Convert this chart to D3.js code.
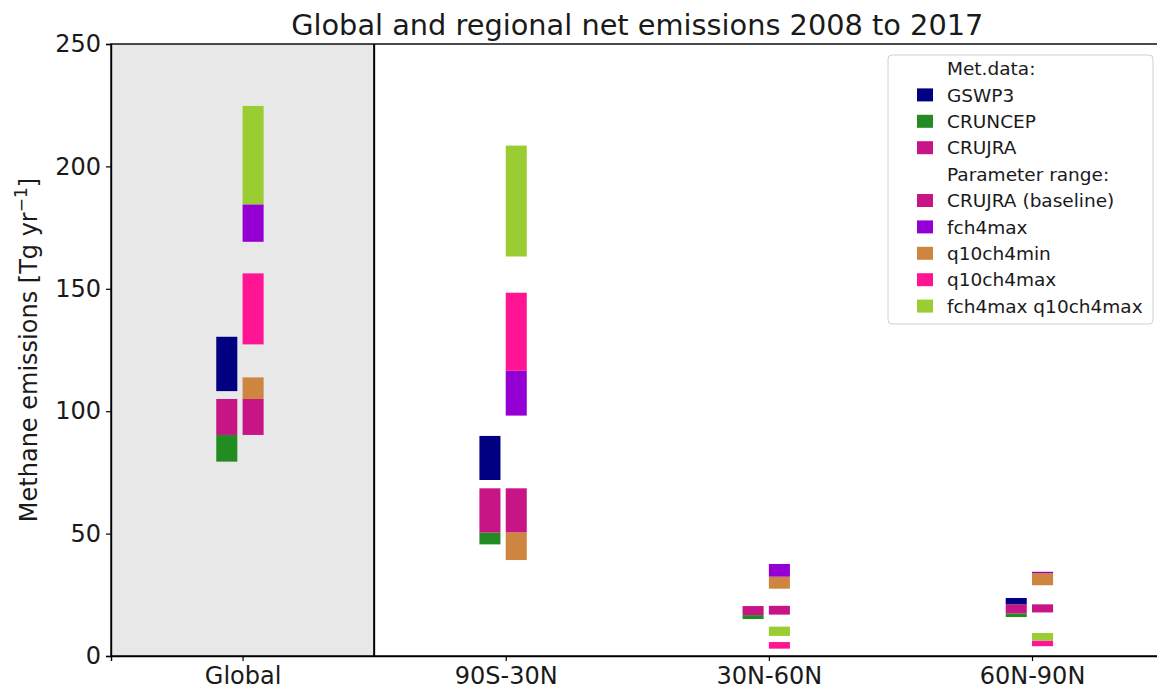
<!DOCTYPE html>
<html lang="en">
<head>
<meta charset="utf-8">
<title>Global and regional net emissions</title>
<script src="https://cdn.jsdelivr.net/npm/d3@7"></script>
<style>
  body { margin: 0; background: #fff; }
  svg { display: block; font-family: "DejaVu Sans", sans-serif; }
</style>
</head>
<body>
<div id="chart"></div>
<script>
// regions on the x axis
const regions = ["Global", "90S-30N", "30N-60N", "60N-90N"];

// Met.data runs: [low, high] range per region (left column)
const gswp3   = [[108.2, 130.4], [71.9, 89.9], null, [21.0, 23.7]];
const cruncep = [[79.4, 90.3], [45.6, 50.4], [15.1, 16.7], [15.9, 17.4]];
const crujra  = [[90.3, 105.0], [50.4, 68.5], [16.7, 20.4], [17.4, 21.0]];

// Parameter range runs: [low, high] range per region (right column)
const baseline   = [[90.3, 105.0], [50.4, 68.5], [16.9, 20.5], [17.8, 21.1]];
const q10ch4min  = [[105.0, 113.8], [39.2, 50.4], [27.5, 32.4], [28.9, 33.9]];
const fch4max    = [[169.2, 184.5], [98.2, 116.5], [32.4, 37.6], [33.9, 34.4]];
const q10ch4max  = [[127.3, 156.3], [116.5, 148.4], [3.0, 5.7], [4.0, 6.3]];
const fch4q10max = [[184.5, 224.7], [163.2, 208.5], [8.2, 12.0], [6.3, 9.4]];

const yTicks = [0, 50, 100, 150, 200, 250];

const W = 1157, H = 693;
const margin = { top: 44, left: 111, bottom: 37 };
const plotRight = 1163.6;

const svg = d3.select("#chart").append("svg")
  .attr("width", W).attr("height", H);

const x = d3.scaleLinear().domain([-0.5, 3.5]).range([margin.left, plotRight]);
const y = d3.scaleLinear().domain([0, 250]).range([H - margin.bottom, margin.top]);

// grey shading behind the global column
svg.append("rect")
  .attr("x", x(-0.5)).attr("y", y(250))
  .attr("width", x(0.5) - x(-0.5)).attr("height", y(0) - y(250))
  .attr("fill", "#e8e8e8");

// series: name, colour, data, column offset (bar width 0.08 data units)
const barW = 0.08;
const series = [
  { name: "GSWP3", color: "#000080", data: gswp3, off: -0.1 },
  { name: "CRUNCEP", color: "#228b22", data: cruncep, off: -0.1 },
  { name: "CRUJRA", color: "#c71585", data: crujra, off: -0.1 },
  { name: "CRUJRA (baseline)", color: "#c71585", data: baseline, off: 0 },
  { name: "q10ch4min", color: "#cd853f", data: q10ch4min, off: 0 },
  { name: "fch4max", color: "#9400d3", data: fch4max, off: 0 },
  { name: "q10ch4max", color: "#ff1493", data: q10ch4max, off: 0 },
  { name: "fch4max q10ch4max", color: "#9acd32", data: fch4q10max, off: 0 }
];

series.forEach(s => {
  svg.append("g").selectAll("rect")
    .data(s.data.map((r, i) => ({ r, i })).filter(d => d.r))
    .join("rect")
    .attr("x", d => x(d.i + s.off))
    .attr("width", x(barW) - x(0))
    .attr("y", d => y(d.r[1]))
    .attr("height", d => y(d.r[0]) - y(d.r[1]))
    .attr("fill", s.color);
});

// separator between global and regional
svg.append("line")
  .attr("x1", x(0.5)).attr("x2", x(0.5))
  .attr("y1", y(250)).attr("y2", y(0))
  .attr("stroke", "#000").attr("stroke-width", 2);

// axes
const xAxis = d3.axisBottom(x)
  .tickValues([0, 1, 2, 3])
  .tickFormat(i => regions[i])
  .tickSizeOuter(0).tickSize(5).tickPadding(6);
const yAxis = d3.axisLeft(y)
  .tickValues(yTicks)
  .tickSizeOuter(0).tickSize(5).tickPadding(5);

const gx = svg.append("g")
  .attr("transform", `translate(0,${y(0)})`)
  .call(xAxis);
const gy = svg.append("g")
  .attr("transform", `translate(${x(-0.5)},0)`)
  .call(yAxis);

[gx, gy].forEach(g => {
  g.selectAll("text").attr("font-size", 24).attr("fill", "#1a1a1a")
    .attr("font-family", "DejaVu Sans");
  g.selectAll(".tick line").attr("stroke", "#000").attr("stroke-width", 1.2);
  g.select(".domain").attr("stroke", "#000").attr("stroke-width", 1.4);
});
gx.selectAll("text").attr("dy", "0.71em");

// frame (top and right spines)
svg.append("rect")
  .attr("x", x(-0.5)).attr("y", y(250))
  .attr("width", x(3.5) - x(-0.5)).attr("height", y(0) - y(250))
  .attr("fill", "none").attr("stroke", "#000").attr("stroke-width", 1.4);

// title
svg.append("text")
  .attr("x", (x(-0.5) + x(3.5)) / 2).attr("y", 35)
  .attr("text-anchor", "middle")
  .attr("font-size", 28.8).attr("fill", "#1a1a1a")
  .text("Global and regional net emissions 2008 to 2017");

// y label
const yl = svg.append("text")
  .attr("transform", `translate(37,${(y(0) + y(250)) / 2}) rotate(-90)`)
  .attr("text-anchor", "middle")
  .attr("font-size", 24).attr("fill", "#1a1a1a");
yl.append("tspan").text("Methane emissions [Tg yr");
yl.append("tspan").attr("font-size", 17).attr("dy", -10).text("\u22121");
yl.append("tspan").attr("dy", 10).text("]");

// legend
const legendRows = [
  { label: "Met.data:", color: null },
  ...series.slice(0, 3).map(s => ({ label: s.name, color: s.color })),
  { label: "Parameter range:", color: null },
  { label: "CRUJRA (baseline)", color: "#c71585" },
  { label: "fch4max", color: "#9400d3" },
  { label: "q10ch4min", color: "#cd853f" },
  { label: "q10ch4max", color: "#ff1493" },
  { label: "fch4max q10ch4max", color: "#9acd32" }
];

const lg = svg.append("g");
lg.append("rect")
  .attr("x", 888).attr("y", 55).attr("width", 265).attr("height", 269)
  .attr("rx", 4)
  .attr("fill", "#fff").attr("fill-opacity", 0.85)
  .attr("stroke", "#d0d0d0").attr("stroke-width", 1);

const row = lg.selectAll("g.row").data(legendRows).join("g")
  .attr("class", "row")
  .attr("transform", (d, i) => `translate(0,${68.5 + i * 26.4})`);
row.filter(d => d.color).append("rect")
  .attr("x", 917).attr("y", -6.5).attr("width", 16).attr("height", 13)
  .attr("fill", d => d.color);
row.append("text")
  .attr("x", 947).attr("dy", "0.36em")
  .attr("font-size", 18.5).attr("fill", "#1a1a1a")
  .text(d => d.label);
</script>
</body>
</html>
